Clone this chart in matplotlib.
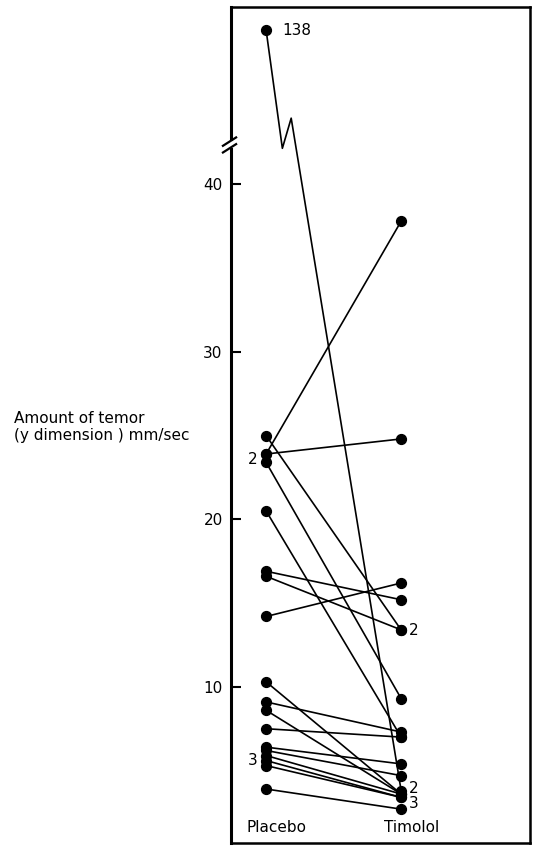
import numpy as np
import matplotlib
matplotlib.use("Agg")
import matplotlib.pyplot as plt
from matplotlib.transforms import blended_transform_factory

# paired values (placebo -> timolol), mm/sec
placebo = [138, 23.9, 23.9, 25.0, 23.4, 20.5, 16.9, 16.6, 14.2,
           10.3, 9.1, 8.6, 7.5, 6.4, 6.2, 5.9, 5.6, 5.3, 3.9]
timolol = [3.8, 37.8, 24.8, 13.4, 9.3, 7.0, 15.2, 13.4, 16.2,
           3.6, 7.3, 3.6, 7.0, 5.4, 4.7, 3.6, 3.4, 3.4, 2.7]
groups = ["Placebo", "Timolol"]
yticks = [10, 20, 30, 40]
# multiplicity labels: (group index, value, text, x offset px, y offset px)
counts = [(0, 23.9, "2", -9, -5), (0, 5.6, "3", -9, 0), (1, 13.4, "2", 8, -1),
          (1, 3.8, "2", 8, 2), (1, 3.4, "3", 8, -6)]

BRK = 42.0
SQ = 0.075  # compression above the break


def fwd(v):
    v = np.asarray(v, dtype=float)
    return np.where(v <= BRK, v, BRK + (v - BRK) * SQ)


def inv(s):
    s = np.asarray(s, dtype=float)
    return np.where(s <= BRK, s, BRK + (s - BRK) / SQ)


fig = plt.figure(figsize=(5.36, 8.46), dpi=100)
ax = fig.add_axes([0.431, 0.003, 0.558, 0.989])
ax.set_yscale("function", functions=(fwd, inv))

for p, t in zip(placebo, timolol):
    if p > BRK:
        # long line with a zigzag break symbol
        sp, st = float(fwd(p)), float(fwd(t))
        s_lo, s_hi = 42.15, 43.95
        xa = (sp - s_lo) / (sp - st) - 0.035
        xb = (sp - s_hi) / (sp - st) + 0.07
        xs = [0, xa, xb, 1]
        ys = [p, float(inv(s_lo)), float(inv(s_hi)), t]
        ax.plot(xs, ys, color="black", lw=1.2, zorder=2)
    else:
        ax.plot([0, 1], [p, t], color="black", lw=1.2, zorder=2)

ax.scatter(np.zeros(len(placebo)), placebo, s=50, color="black", zorder=3)
ax.scatter(np.ones(len(timolol)), timolol, s=50, color="black", zorder=3)

ax.set_xlim(-0.26, 1.955)
ax.set_ylim(0.65, float(inv(50.6)))
ax.set_yticks(yticks)
ax.set_yticklabels([str(v) for v in yticks], fontsize=11)
ax.tick_params(axis="y", direction="in", length=7, width=1.5, pad=6)
ax.set_xticks([])

for s in ["top", "right", "bottom"]:
    ax.spines[s].set_linewidth(1.8)
ax.spines["left"].set_visible(False)

# left spine with break
tr = blended_transform_factory(ax.transAxes, ax.transData)
ax.plot([0, 0], [0.65, float(inv(42.1))], color="black", lw=2.2, transform=tr, clip_on=False)
ax.plot([0, 0], [float(inv(42.7)), float(inv(50.6))], color="black", lw=2.2, transform=tr, clip_on=False)
for lo, hi in [(41.9, 42.4), (42.3, 42.8)]:
    ax.plot([-0.027, 0.017], [float(inv(lo)), float(inv(hi))], color="black", lw=1.6,
            transform=tr, clip_on=False)

ax.annotate("138", (0, 138), xytext=(16, 0), textcoords="offset pixels",
            va="center", ha="left", fontsize=11)
for g, v, txt, dx, dy in counts:
    ax.annotate(txt, (g, v), xytext=(dx, dy), textcoords="offset pixels",
                va="center", ha="right" if g == 0 else "left", fontsize=11)

for i, g in enumerate(groups):
    ax.text(i + 0.075, 1.6, g, ha="center", va="center", fontsize=11)

fig.text(14 / 536, 1 - 427 / 846, "Amount of temor\n(y dimension ) mm/sec",
         ha="left", va="center", fontsize=11, linespacing=1.2)

fig.savefig("out.png", dpi=100)
